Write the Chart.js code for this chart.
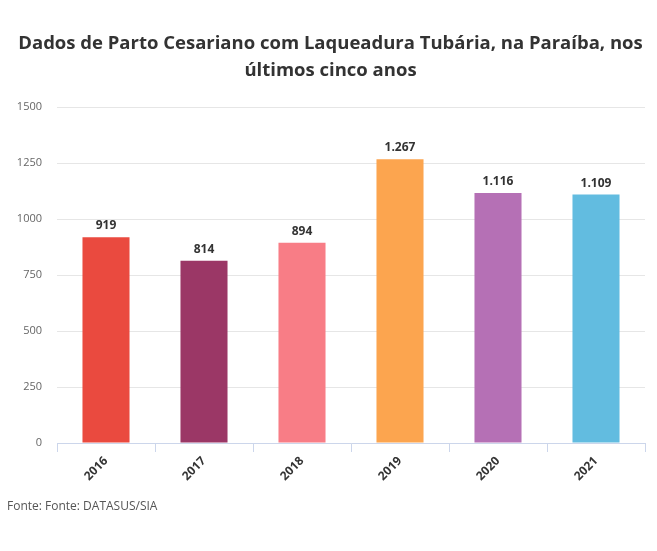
<!DOCTYPE html>
<html>
<head>
<meta charset="utf-8">
<script src="https://cdn.jsdelivr.net/npm/chart.js@4"></script>
<style>
  body { margin: 0; background: #fff; }
  #wrap { position: relative; width: 657px; height: 551px; }
  #titulo { position: absolute; left: 0; top: 28px; width: 661px; text-align: center;
            font: bold 18.5px/27px "Open Sans", sans-serif; color: #333; }
  #fonte { position: absolute; left: 7px; top: 497px; font: 12px "Open Sans", sans-serif; color: #555; }
</style>
</head>
<body>
<div id="wrap">
  <canvas id="chart" width="657" height="551"></canvas>
  <div id="titulo">Dados de Parto Cesariano com Laqueadura Tubária, na Paraíba, nos<br>últimos cinco anos</div>
  <div id="fonte">Fonte: Fonte: DATASUS/SIA</div>
</div>
<script>
const anos = ['2016', '2017', '2018', '2019', '2020', '2021'];
const partos = [919, 814, 894, 1267, 1116, 1109];
const cores = ['#ea4a3f', '#9b3766', '#f87d86', '#fca54f', '#b570b5', '#62bce0'];
const yTicks = [0, 250, 500, 750, 1000, 1250, 1500];

// pt-BR thousands separator
const fmt = v => String(v).replace(/\B(?=(\d{3})+(?!\d))/g, '.');

// value labels above each bar
const rotulos = {
    id: 'rotulos',
    afterDatasetsDraw(chart) {
        const ctx = chart.ctx;
        const meta = chart.getDatasetMeta(0);
        ctx.save();
        ctx.font = 'bold 12px "Open Sans", sans-serif';
        ctx.fillStyle = '#333';
        ctx.textAlign = 'center';
        ctx.textBaseline = 'alphabetic';
        meta.data.forEach((bar, i) => {
            ctx.fillText(fmt(partos[i]), bar.x, bar.y - 8);
        });
        ctx.restore();
    }
};

new Chart(document.getElementById('chart'), {
    type: 'bar',
    data: {
        labels: anos,
        datasets: [{
            data: partos,
            backgroundColor: cores,
            borderWidth: 0,
            categoryPercentage: 1,
            barPercentage: 0.48
        }]
    },
    options: {
        responsive: false,
        animation: false,
        layout: { padding: { left: 0, right: 12, top: 107, bottom: 0 } },
        plugins: {
            legend: { display: false },
            tooltip: { enabled: false },
            title: { display: false }
        },
        scales: {
            x: {
                grid: { display: true, drawOnChartArea: false, drawTicks: true, tickLength: 9, color: '#ccd6eb', offset: true },
                border: { display: true, color: '#ccd6eb' },
                ticks: {
                    color: '#333',
                    font: { family: '"Open Sans", sans-serif', size: 12, weight: 'bold' },
                    minRotation: 45, maxRotation: 45, padding: 2
                },
                afterFit(scale) { scale.height = 108; }
            },
            y: {
                min: 0, max: 1500,
                afterBuildTicks(scale) { scale.ticks = yTicks.map(v => ({ value: v })); },
                grid: { color: '#e6e6e6', drawTicks: false },
                border: { display: false },
                ticks: {
                    color: '#666',
                    padding: 15,
                    font: { family: '"Open Sans", sans-serif', size: 11 },
                    callback: v => String(v)
                },
                afterFit(scale) { scale.width = 57; }
            }
        }
    },
    plugins: [rotulos]
});
</script>
</body>
</html>
